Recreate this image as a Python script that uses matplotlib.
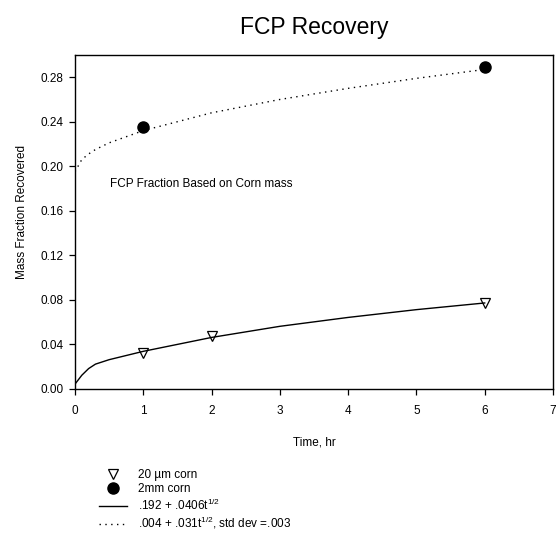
import numpy as np
import matplotlib
matplotlib.use('Agg')
import matplotlib.pyplot as plt

plt.rcParams['font.family'] = ['Liberation Sans', 'DejaVu Sans']
plt.rcParams['mathtext.fontset'] = 'custom'
plt.rcParams['mathtext.rm'] = 'Liberation Sans'
plt.rcParams['mathtext.it'] = 'Liberation Sans'

# measured points
t_fine = [1, 2, 6]
y_fine = [0.032, 0.047, 0.0766]
t_coarse = [1, 6]
y_coarse = [0.235, 0.289]

# fitted curves
t_fit = [0, 0.1, 0.2, 0.3, 0.5, 1, 2, 3, 4, 5, 6]
y_fit_fine = [0.004, 0.012, 0.018, 0.022, 0.026, 0.0335, 0.046, 0.056, 0.064, 0.071, 0.077]
y_fit_coarse = [0.195, 0.206, 0.211, 0.215, 0.221, 0.232, 0.248, 0.260, 0.270, 0.279, 0.287]

labels = ['20 \u00b5m corn', '2mm corn',
          r'.192 + .0406t$^{1/2}$',
          r'.004 + .031t$^{1/2}$, std dev =.003']

fig = plt.figure(figsize=(5.57, 5.34), dpi=100)
ax = fig.add_axes([0.1346, 0.2723, 0.8582, 0.6247])

h1, = ax.plot(t_fine, y_fine, linestyle='none', marker='v', ms=7.5,
              mfc='white', mec='black', mew=0.9)
h2, = ax.plot(t_coarse, y_coarse, linestyle='none', marker='o', ms=8,
              color='black')
h3, = ax.plot(t_fit, y_fit_fine, color='black', lw=1.0)
h4, = ax.plot(t_fit, y_fit_coarse, color='black', lw=1.0, linestyle=(0, (1, 3.2)))

ax.set_xlim(0, 7)
ax.set_ylim(0, 0.30)
ax.set_xticks(range(8))
ax.set_yticks(np.arange(0, 0.29, 0.04))
ax.yaxis.set_major_formatter(matplotlib.ticker.FormatStrFormatter('%.2f'))
ax.tick_params(direction='out', length=4, width=0.9, labelsize=8.5, pad=4)
ax.tick_params(axis='x', pad=8)
for s in ax.spines.values():
    s.set_linewidth(1.0)

ax.set_xlabel('Time, hr', fontsize=8.5, labelpad=14)
ax.set_ylabel('Mass Fraction Recovered', fontsize=8.5)
ax.yaxis.set_label_coords(-0.098, 0.53)
ax.set_title('FCP Recovery', fontsize=16.5, pad=15)

ax.text(0.51, 0.1837, 'FCP Fraction Based on Corn mass', fontsize=8.5,
        va='center', ha='left')

fig.legend([h1, h2, h3, h4], labels, loc='upper left',
           bbox_to_anchor=(0.178, 0.122), frameon=False, fontsize=8.5,
           handlelength=2.4, handletextpad=0.9, labelspacing=0.2,
           borderpad=0, borderaxespad=0)

fig.savefig('out.png', dpi=100, facecolor='white')
